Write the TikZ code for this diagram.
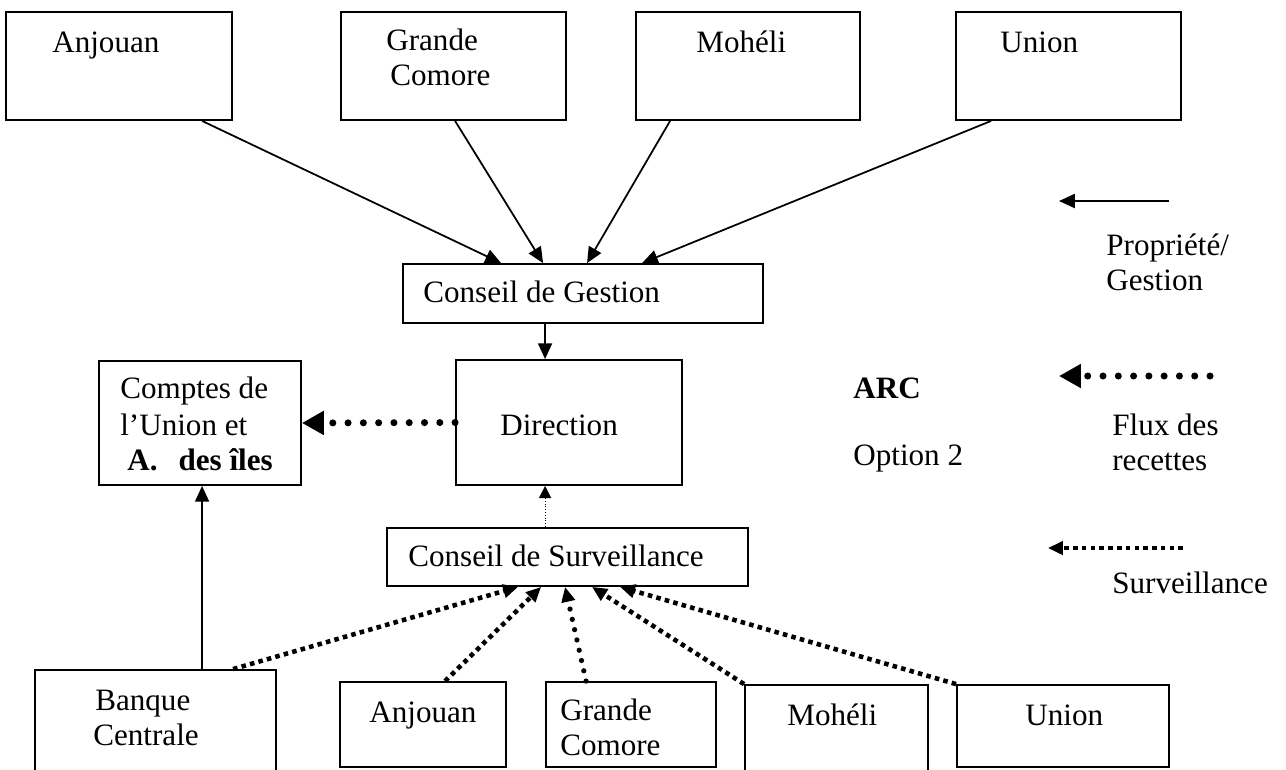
\documentclass[tikz,border=0pt]{standalone}
\usepackage{fontspec}
\setmainfont{Liberation Serif}
\usetikzlibrary{arrows.meta,fit,calc}
\begin{document}
\begin{tikzpicture}[x=0.02cm,y=-0.02cm,
  box/.style={draw, line width=1.05pt, inner sep=0pt},
  lbl/.style={anchor=base west, inner sep=0pt, font=\fontsize{17.7}{20.3}\selectfont},
  solidarr/.style={line width=1pt, -{Triangle[length=9pt,width=8pt]}},
  sqarr/.style={line width=2.6pt, dash pattern=on 2.6pt off 2.4pt, -{Triangle[length=8.5pt,width=7.5pt]}},
  rdarr/.style={line width=3pt, line cap=round, dash pattern=on 0pt off 6pt, -{Triangle[length=8.5pt,width=7.5pt]}},
  bigrd/.style={line width=4pt, line cap=round, dash pattern=on 0pt off 8.7pt, -{Triangle[length=12.5pt,width=13pt]}},
  thindot/.style={line width=0.6pt, dash pattern=on 0.6pt off 1pt, -{Triangle[length=7pt,width=7pt]}}
]
\clip (0,0) rectangle (1286,769);
\fill[white] (0,0) rectangle (1286,769);

% top boxes
\node[box, fit={(6,12) (232,120)}] (a1) {};
\node[box, fit={(341,12) (566,120)}] (g1) {};
\node[box, fit={(636,12) (860,120)}] (m1) {};
\node[box, fit={(956,12) (1181,120)}] (u1) {};
\node[lbl] (a1t) at (52,52) {Anjouan};
\node[lbl] (g1t) at (386,50) {Grande};
\node[lbl] (g1u) at (390,85) {Comore};
\node[lbl] (m1t) at (696,52) {Mohéli};
\node[lbl] (u1t) at (1000,52) {Union};

% middle boxes
\node[box, fit={(403,264) (763,323)}] (cg) {};
\node[lbl] (cgt) at (423,302) {Conseil de Gestion};
\node[box, fit={(456,360) (682,485)}] (dir) {};
\node[lbl] (dirt) at (500,435) {Direction};
\node[box, fit={(99,361) (301,485)}] (cpt) {};
\node[lbl] (cpt1) at (120,398) {Comptes de};
\node[lbl] (cpt2) at (120,435) {l’Union et};
\node[lbl] (cpt3) at (127,470) {\textbf{A.\hspace{12pt}des îles}};
\node[box, fit={(387,528) (748,586)}] (cs) {};
\node[lbl] (cst) at (408,566) {Conseil de Surveillance};
\node[lbl] (arc) at (853,398) {\textbf{ARC}};
\node[lbl] (opt) at (853,465) {Option 2};

% bottom boxes
\node[box, fit={(35,670) (276,800)}] (bc) {};
\node[lbl] (bct) at (95,710) {Banque};
\node[lbl] (bcu) at (93,745) {Centrale};
\node[box, fit={(340,682) (506,767)}] (a2) {};
\node[lbl] (a2t) at (369,722) {Anjouan};
\node[box, fit={(546,682) (716,767)}] (g2) {};
\node[lbl] (g2t) at (560,720) {Grande};
\node[lbl] (g2u) at (560,755) {Comore};
\node[box, fit={(745,685) (928,800)}] (m2) {};
\node[lbl] (m2t) at (787,725) {Mohéli};
\node[box, fit={(957,685) (1169,767)}] (u2) {};
\node[lbl] (u2t) at (1025,725) {Union};

% legend
\coordinate (l1s) at (1169,201);
\coordinate (l1e) at (1059,201);
\draw[solidarr] (l1s) -- (l1e);
\node[lbl] (l1t) at (1106,255) {Propriété/};
\node[lbl] (l1u) at (1106,290) {Gestion};
\coordinate (l2s) at (1210,376);
\coordinate (l2e) at (1059,376);
\draw[bigrd] (l2s) -- (l2e);
\node[lbl] (l2t) at (1112,435) {Flux des};
\node[lbl] (l2u) at (1112,470) {recettes};
\coordinate (l3s) at (1183,548);
\coordinate (l3e) at (1048,548);
\draw[sqarr] (l3s) -- (l3e);
\node[lbl] (l3t) at (1112,593) {Surveillance};

% connectors top
\draw[solidarr] ($(a1.south west)+(197,0)$) -- ($(cg.north west)+(99,0)$);
\draw[solidarr] ($(g1.south west)+(115,0)$) -- ($(cg.north west)+(141,0)$);
\draw[solidarr] ($(m1.south west)+(35,0)$) -- ($(cg.north west)+(185,0)$);
\draw[solidarr] ($(u1.south west)+(36,0)$) -- ($(cg.north west)+(240,0)$);
\draw[solidarr] ($(cg.south west)+(143,0)$) -- ($(dir.north west)+(90,0)$);
\draw[bigrd] (dir.west) -- (cpt.east);
\draw[thindot] ($(cs.north west)+(159,0)$) -- ($(dir.south west)+(90,0)$);
\draw[solidarr] ($(bc.north west)+(168,0)$) -- ($(cpt.south west)+(104,0)$);

% connectors bottom
\draw[sqarr] ($(bc.north west)+(199,0)$) -- ($(cs.south west)+(132,0)$);
\draw[sqarr] ($(a2.north west)+(106,0)$) -- ($(cs.south west)+(155,0)$);
\draw[rdarr] ($(g2.north west)+(41,0)$) -- ($(cs.south west)+(179,0)$);
\draw[sqarr] (m2.north west) -- ($(cs.south west)+(206,0)$);
\draw[sqarr] (u2.north west) -- ($(cs.south west)+(234,0)$);
\end{tikzpicture}
\end{document}
